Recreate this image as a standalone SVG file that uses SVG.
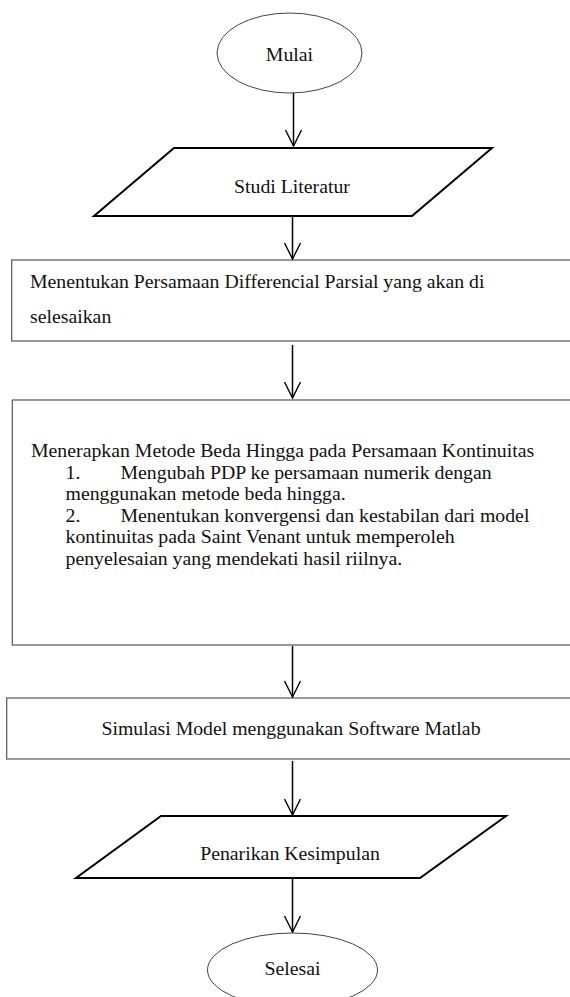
<svg xmlns="http://www.w3.org/2000/svg" width="570" height="997" viewBox="0 0 570 997">
<defs>
<marker id="ah" markerWidth="20" markerHeight="20" refX="17" refY="10" orient="auto" markerUnits="userSpaceOnUse" viewBox="0 0 20 20">
<path d="M1,2 L17,10 L1,18" fill="none" stroke="#000" stroke-width="1.4"/>
</marker>
<style>
text{font-family:"Liberation Serif","Times New Roman",serif;font-size:19.8px;fill:#111}
.c{text-anchor:middle}
.ell{fill:#fff;stroke:#444;stroke-width:1}
.para{fill:#fff;stroke:#000;stroke-width:2}
.box{fill:#fff;stroke:#555;stroke-width:1.2}
.con line{stroke:#000;stroke-width:1.5}
</style>
</defs>
<rect width="570" height="997" fill="#fff"/>
<g id="mulai">
<ellipse class="ell" cx="289.5" cy="53" rx="72.5" ry="40"/>
<text class="c" x="289.5" y="61">Mulai</text>
</g>
<g id="studi">
<polygon class="para" points="174,148 492,148 412,216 94,216"/>
<text class="c" x="292" y="193">Studi Literatur</text>
</g>
<g id="menentukan">
<rect class="box" x="11.7" y="260" width="565" height="81"/>
<text x="30" y="288">Menentukan Persamaan Differencial Parsial yang akan di</text>
<text x="30" y="323">selesaikan</text>
</g>
<g id="menerapkan">
<rect class="box" x="12.3" y="400" width="565" height="245"/>
<text x="31" y="457">Menerapkan Metode Beda Hingga pada Persamaan Kontinuitas</text>
<text x="65.5" y="478.5">1.</text>
<text x="120.5" y="478.5">Mengubah PDP ke persamaan numerik dengan</text>
<text x="65.5" y="500">menggunakan metode beda hingga.</text>
<text x="65.5" y="521.5">2.</text>
<text x="120.5" y="521.5">Menentukan konvergensi dan kestabilan dari model</text>
<text x="65.5" y="543">kontinuitas pada Saint Venant untuk memperoleh</text>
<text x="65.5" y="564.5">penyelesaian yang mendekati hasil riilnya.</text>
</g>
<g id="simulasi">
<rect class="box" x="6.7" y="698" width="570" height="61"/>
<text class="c" x="291" y="735">Simulasi Model menggunakan Software Matlab</text>
</g>
<g id="penarikan">
<polygon class="para" points="161,816 506,816 420,878 76,878"/>
<text class="c" x="290" y="860">Penarikan Kesimpulan</text>
</g>
<g id="selesai">
<ellipse class="ell" cx="292.5" cy="970" rx="85" ry="37"/>
<text class="c" x="292.5" y="975">Selesai</text>
</g>
<g id="connectors" class="con">
<line x1="293.5" y1="93" x2="293.5" y2="146" marker-end="url(#ah)"/>
<line x1="292.5" y1="216" x2="292.5" y2="259" marker-end="url(#ah)"/>
<line x1="292.5" y1="345" x2="292.5" y2="398" marker-end="url(#ah)"/>
<line x1="292.5" y1="646" x2="292.5" y2="697" marker-end="url(#ah)"/>
<line x1="292.5" y1="761" x2="292.5" y2="815" marker-end="url(#ah)"/>
<line x1="292.5" y1="879" x2="292.5" y2="932" marker-end="url(#ah)"/>
</g>
</svg>
